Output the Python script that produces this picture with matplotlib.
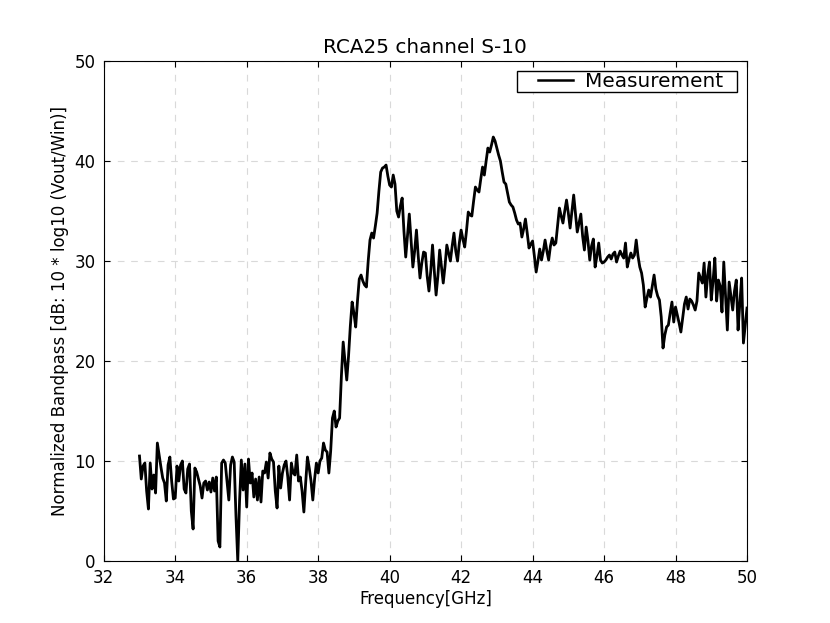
import numpy as np
import matplotlib
matplotlib.use('Agg')
import matplotlib.pyplot as plt
from matplotlib.legend_handler import HandlerLine2D

# bandpass readings, one list per GHz (0.05 GHz step)
bp_33 = [10.5, 8.2, 9.5, 9.8, 7.0, 5.2, 9.8, 7.2, 8.6, 6.8, 11.8, 10.6, 9.4, 8.3, 7.8, 6.0, 9.6, 10.4, 8.0, 6.2]
bp_34 = [6.3, 9.5, 8.0, 9.6, 10.0, 7.2, 6.8, 9.2, 9.7, 5.0, 3.2, 9.3, 8.9, 8.2, 7.5, 6.3, 7.8, 8.0, 7.1, 7.9]
bp_35 = [6.9, 8.3, 7.0, 8.4, 2.0, 1.4, 9.8, 10.1, 9.8, 8.0, 6.1, 9.6, 10.4, 9.9, 4.5, 0.0, 6.0, 10.1, 7.1, 9.7]
bp_36 = [5.4, 10.2, 7.8, 8.8, 6.4, 8.2, 6.1, 8.4, 5.9, 9.0, 8.8, 9.9, 8.3, 10.8, 10.2, 9.9, 7.0, 5.3, 9.5, 7.3]
bp_37 = [8.8, 9.6, 10.0, 8.4, 6.1, 9.8, 8.8, 8.6, 10.6, 8.0, 8.4, 7.0, 4.9, 7.8, 10.4, 9.3, 8.0, 6.1, 8.2, 9.8]
bp_38 = [8.8, 10.0, 10.3, 11.8, 11.1, 10.9, 8.8, 11.0, 14.3, 15.0, 13.4, 14.0, 14.3, 18.5, 21.9, 20.0, 18.1, 20.5, 23.5, 25.9]
bp_39 = [24.8, 23.4, 26.0, 28.2, 28.6, 28.0, 27.6, 27.4, 30.0, 32.1, 32.8, 32.3, 33.5, 34.8, 37.0, 38.9, 39.3, 39.4, 39.6, 38.5]
bp_40 = [37.6, 37.4, 38.6, 37.7, 35.0, 34.4, 35.5, 36.3, 33.0, 30.4, 32.5, 34.7, 32.0, 29.4, 31.0, 33.1, 30.5, 28.3, 29.8, 30.9]
bp_41 = [30.8, 28.5, 27.0, 29.0, 31.6, 29.0, 26.6, 28.5, 31.1, 29.5, 27.8, 29.5, 31.6, 30.8, 30.0, 31.5, 32.8, 31.0, 30.0, 31.8]
bp_42 = [33.1, 32.2, 31.4, 33.0, 34.9, 34.6, 34.5, 36.0, 37.4, 37.1, 36.9, 38.2, 39.4, 38.6, 40.0, 41.3, 40.9, 41.6, 42.4, 42.0]
bp_43 = [41.3, 40.6, 40.0, 38.9, 37.9, 37.7, 36.8, 35.9, 35.6, 35.4, 34.8, 34.1, 33.7, 33.8, 32.4, 33.2, 34.2, 32.8, 31.3, 31.7]
bp_44 = [32.0, 30.5, 28.9, 30.0, 31.2, 30.1, 31.0, 32.1, 31.0, 30.1, 31.5, 32.3, 31.6, 31.8, 33.5, 35.3, 34.5, 33.8, 35.0, 36.1]
bp_45 = [34.8, 33.3, 35.0, 36.6, 34.8, 32.9, 33.8, 34.7, 32.5, 31.1, 33.4, 32.0, 30.1, 31.5, 32.2, 29.4, 30.5, 31.8, 30.1, 29.8]
bp_46 = [29.9, 30.1, 30.4, 30.6, 30.2, 30.7, 30.9, 29.9, 30.5, 31.0, 30.6, 30.3, 31.8, 29.4, 30.2, 30.8, 30.3, 30.6, 32.1, 30.5]
bp_47 = [29.4, 28.8, 27.6, 25.4, 26.3, 27.1, 26.4, 27.5, 28.6, 27.2, 26.5, 26.1, 24.4, 21.3, 22.6, 23.4, 23.6, 24.8, 25.9, 23.9]
bp_48 = [25.4, 24.6, 23.8, 22.9, 24.3, 25.7, 26.4, 25.2, 26.2, 26.0, 25.6, 25.1, 26.0, 28.8, 28.3, 27.8, 29.8, 26.4, 28.6, 29.9]
bp_49 = [26.1, 28.0, 30.3, 26.0, 28.1, 27.5, 24.9, 29.9, 26.5, 23.1, 27.9, 26.5, 25.1, 27.0, 28.1, 23.1, 25.8, 28.3, 21.8, 23.5]
bp_50 = [25.3]

f_start = 33.0
f_step = 0.05

bandpass = np.array(bp_33 + bp_34 + bp_35 + bp_36 + bp_37 + bp_38 + bp_39 + bp_40 + bp_41
                    + bp_42 + bp_43 + bp_44 + bp_45 + bp_46 + bp_47 + bp_48 + bp_49 + bp_50)
freq = f_start + f_step * np.arange(len(bandpass))

plt.rcParams['font.family'] = 'DejaVu Sans'
plt.rcParams['font.size'] = 12
plt.rcParams['xtick.direction'] = 'in'
plt.rcParams['ytick.direction'] = 'in'
plt.rcParams['xtick.top'] = True
plt.rcParams['ytick.right'] = True
plt.rcParams['xtick.major.size'] = 4
plt.rcParams['ytick.major.size'] = 4
plt.rcParams['xtick.major.pad'] = 6
plt.rcParams['ytick.major.pad'] = 6

fig = plt.figure(figsize=(8.3, 6.23), dpi=100)
ax = fig.add_axes([0.125, 0.0995, 0.775, 0.8025])
line, = ax.plot(freq, bandpass, color='black', linewidth=2, label='Measurement  ')
ax.set_xlim(32, 50)
ax.set_ylim(0, 50)
ax.set_xticks(np.arange(32, 51, 2))
ax.set_yticks(np.arange(0, 51, 10))
ax.grid(True, color='0.85', linestyle=(0, (6, 6)), linewidth=0.8)
ax.set_axisbelow(True)
ax.set_title('RCA25 channel S-10', fontsize=14.4)
ax.set_xlabel('Frequency[GHz]', labelpad=2)
ax.set_ylabel('Normalized Bandpass [dB: 10 * log10 (Vout/Win)]')

# old-style legend: tight box vertically, wide padding around the short line
leg = ax.legend(loc='upper right', fontsize=14.4, fancybox=False, borderpad=0.05,
                handlelength=3.75, handletextpad=-0.4, borderaxespad=0.5,
                handler_map={line: HandlerLine2D(marker_pad=1.0, numpoints=2)})
leg.get_frame().set_edgecolor('black')
leg.get_frame().set_linewidth(1)
leg.get_frame().set_alpha(1)
for h in leg.get_lines():
    h.set_linewidth(1.8)

plt.savefig('out.png', dpi=100)
